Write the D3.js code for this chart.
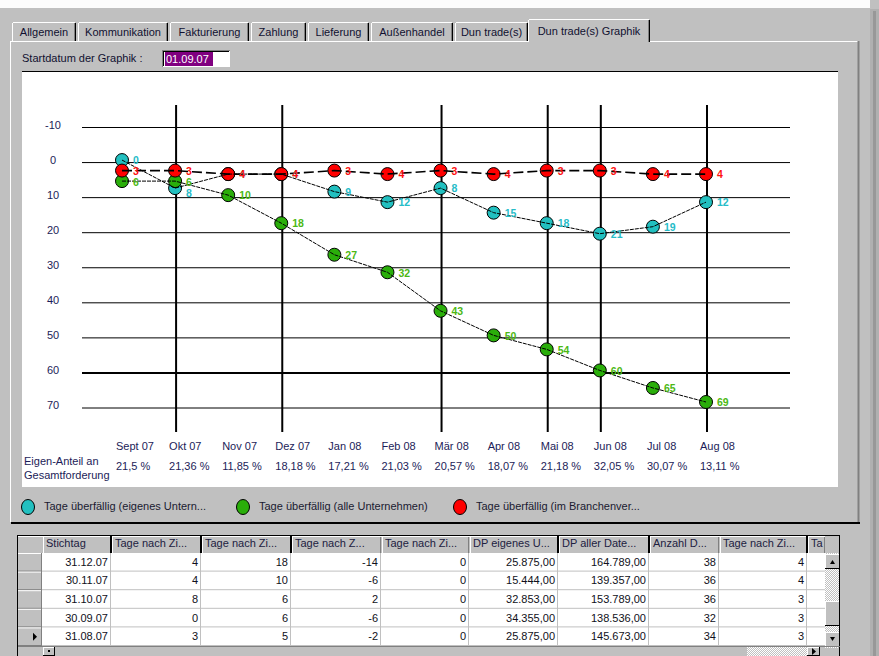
<!DOCTYPE html>
<html>
<head>
<meta charset="utf-8">
<script src="https://cdn.jsdelivr.net/npm/d3@7"></script>
<style>
  body { margin: 0; background: #c0c0c0; }
  svg { display: block; font-family: "Liberation Sans", Arial, sans-serif; }
</style>
</head>
<body>
<div id="chart"></div>
<script>
// chart data
const months = ["Sept 07", "Okt 07", "Nov 07", "Dez 07", "Jan 08", "Feb 08",
                "Mär 08", "Apr 08", "Mai 08", "Jun 08", "Jul 08", "Aug 08"];
const eigenes = [0, 8, 4, 4, 9, 12, 8, 15, 18, 21, 19, 12];
const alle = [6, 6, 10, 18, 27, 32, 43, 50, 54, 60, 65, 69];
const branche = [3, 3, 4, 4, 3, 4, 3, 4, 3, 3, 4, 4];
const eigenAnteil = ["21,5 %", "21,36 %", "11,85 %", "18,18 %", "17,21 %", "21,03 %",
                     "20,57 %", "18,07 %", "21,18 %", "32,05 %", "30,07 %", "13,11 %"];
const markedMonths = ["Okt 07", "Dez 07", "Mär 08", "Mai 08", "Jun 08", "Aug 08"];
const yTicks = [-10, 0, 10, 20, 30, 40, 50, 60, 70];
const seriesNames = ["Tage überfällig (eigenes Untern...", "Tage überfällig (alle Unternehmen)",
                     "Tage überfällig (im Branchenver..."];

// window stuff
const tabs = ["Allgemein", "Kommunikation", "Fakturierung", "Zahlung", "Lieferung",
              "Außenhandel", "Dun trade(s)", "Dun trade(s) Graphik"];
const gridColumns = ["Stichtag", "Tage nach Zi...", "Tage nach Zi...", "Tage nach Z...", "Tage nach Zi...",
                     "DP eigenes U...", "DP aller Date...", "Anzahl D...", "Tage nach Zi...", "Ta"];
const gridRows = [
  ["31.12.07", "4", "18", "-14", "0", "25.875,00", "164.789,00", "38", "4", ""],
  ["30.11.07", "4", "10", "-6", "0", "15.444,00", "139.357,00", "36", "4", ""],
  ["31.10.07", "8", "6", "2", "0", "32.853,00", "153.789,00", "36", "3", ""],
  ["30.09.07", "0", "6", "-6", "0", "34.355,00", "138.536,00", "32", "3", ""],
  ["31.08.07", "3", "5", "-2", "0", "25.875,00", "145.673,00", "34", "3", ""]
];

const W = 879, H = 656;
const colors = { eigenes: "#22c0c0", alle: "#2aae0a", branche: "#ff0000" };
const labelColors = { eigenes: "#26bcc8", alle: "#4cb814", branche: "#ff1010" };
const textDark = "#1c1c58";

const svg = d3.select("#chart").append("svg")
  .attr("width", W).attr("height", H);

const defs = svg.append("defs");
const dither = defs.append("pattern").attr("id", "dither")
  .attr("width", 2).attr("height", 2).attr("patternUnits", "userSpaceOnUse");
dither.append("rect").attr("width", 2).attr("height", 2).attr("fill", "#c0c0c0");
dither.append("rect").attr("width", 1).attr("height", 1).attr("fill", "#fff");
dither.append("rect").attr("x", 1).attr("y", 1).attr("width", 1).attr("height", 1).attr("fill", "#fff");

function hline(g, x1, x2, y, color, w) {
  g.append("line").attr("x1", x1).attr("x2", x2).attr("y1", y).attr("y2", y)
    .attr("stroke", color).attr("stroke-width", w || 1);
}
function vline(g, x, y1, y2, color, w) {
  g.append("line").attr("x1", x).attr("x2", x).attr("y1", y1).attr("y2", y2)
    .attr("stroke", color).attr("stroke-width", w || 1);
}

// background + window edges
svg.append("rect").attr("width", W).attr("height", H).attr("fill", "#c0c0c0");
svg.append("rect").attr("width", 870).attr("height", 8).attr("fill", "#fcfcfc");
svg.append("rect").attr("x", 870).attr("y", 9).attr("width", 9).attr("height", H).attr("fill", "#b0b0b0");
svg.append("rect").attr("x", 873).attr("y", 11).attr("width", 3).attr("height", H).attr("fill", "#989898");

// tab page frame
const frame = svg.append("g");
hline(frame, 10, 858, 41.5, "#fff");
vline(frame, 10.5, 41, 522, "#fff");
vline(frame, 858.5, 41, 522, "#808080", 2);
hline(frame, 11, 860, 523, "#000", 2);

// tabs
const tabRight = [76, 168, 249, 306, 369, 453, 528, 650];
const tabG = svg.append("g").style("font-size", "11px");
let tabLeft = 12;
tabs.forEach((t, i) => {
  const active = i === tabs.length - 1;
  const x0 = active ? tabLeft - 2 : tabLeft;
  const x1 = tabRight[i];
  const y0 = active ? 19 : 22;
  tabG.append("rect").attr("x", x0).attr("y", y0).attr("width", x1 - x0)
    .attr("height", (active ? 43 : 41) - y0).attr("fill", "#c0c0c0");
  hline(tabG, x0 + 1, x1 - 1, y0 + 0.5, "#fff");
  vline(tabG, x0 + 0.5, y0 + 1, active ? 42 : 41, "#fff");
  vline(tabG, x1 - 1.5, y0 + 1, active ? 42 : 41, "#808080");
  vline(tabG, x1 - 0.5, y0 + 1, active ? 42 : 41, "#000");
  tabG.append("text").attr("x", (x0 + x1) / 2).attr("y", active ? 35 : 36)
    .attr("text-anchor", "middle").attr("fill", "#101030").text(t);
  tabLeft = x1 + 2;
});

// start date field
svg.append("text").attr("x", 22).attr("y", 62).style("font-size", "11px")
  .attr("fill", "#101030").text("Startdatum der Graphik :");
svg.append("rect").attr("x", 162).attr("y", 50).attr("width", 68).attr("height", 17).attr("fill", "#fff");
hline(svg, 162, 230, 50.5, "#808080");
vline(svg, 162.5, 50, 67, "#808080");
hline(svg, 163, 229, 51.5, "#000");
vline(svg, 163.5, 51, 66, "#000");
svg.append("rect").attr("x", 165).attr("y", 52).attr("width", 48).attr("height", 14).attr("fill", "#800080");
svg.append("text").attr("x", 166).attr("y", 63).style("font-size", "11px")
  .attr("fill", "#fff").text("01.09.07");

// chart panel
svg.append("rect").attr("x", 22).attr("y", 72).attr("width", 816).attr("height", 415).attr("fill", "#fff");
hline(svg, 22, 838, 71.5, "#000");

const x = d3.scalePoint().domain(months).range([122, 706]);
const y = d3.scaleLinear().domain([-10, 70]).range([127.5, 408]);

const grid = svg.append("g");
grid.selectAll(".hgrid").data(yTicks).join("line")
  .attr("x1", 82).attr("x2", 790)
  .attr("y1", d => y(d)).attr("y2", d => y(d))
  .attr("stroke", "#000")
  .attr("stroke-width", d => d === 60 ? 2 : 1);
grid.selectAll(".vgrid").data(markedMonths).join("line")
  .attr("x1", d => x(d) + 1).attr("x2", d => x(d) + 1)
  .attr("y1", 105).attr("y2", 432)
  .attr("stroke", "#000").attr("stroke-width", 2);

grid.selectAll(".ylab").data(yTicks).join("text")
  .attr("x", 53).attr("y", d => y(d) - 1.5)
  .attr("text-anchor", "middle").attr("dominant-baseline", "middle")
  .style("font-size", "11px").attr("fill", textDark)
  .text(d => d);

// month + share rows
grid.selectAll(".xlab").data(months).join("text")
  .attr("x", d => x(d) - 6).attr("y", 447)
  .attr("dominant-baseline", "middle")
  .style("font-size", "11px").attr("fill", textDark)
  .text(d => d);
grid.selectAll(".pct").data(eigenAnteil).join("text")
  .attr("x", (d, i) => x(months[i]) - 6).attr("y", 467)
  .attr("dominant-baseline", "middle")
  .style("font-size", "11px").attr("fill", textDark)
  .text(d => d);
grid.append("text").attr("x", 24).attr("y", 462).attr("dominant-baseline", "middle")
  .style("font-size", "11px").attr("fill", textDark).text("Eigen-Anteil an");
grid.append("text").attr("x", 24).attr("y", 476).attr("dominant-baseline", "middle")
  .style("font-size", "11px").attr("fill", textDark).text("Gesamtforderung");

// series
const series = [
  { key: "eigenes", values: eigenes, dash: "4,1", width: 1 },
  { key: "alle", values: alle, dash: "4,1", width: 1 },
  { key: "branche", values: branche, dash: "10,4", width: 1.6 }
];
const plot = svg.append("g").attr("transform", "translate(0,-2.5)");

series.forEach(s => {
  plot.append("g").selectAll("ellipse").data(s.values).join("ellipse")
    .attr("cx", (d, i) => x(months[i]))
    .attr("cy", d => y(d))
    .attr("rx", 6.5).attr("ry", 6.5)
    .attr("fill", colors[s.key])
    .attr("stroke", "#000").attr("stroke-width", 1);
});

const line = d3.line().x((d, i) => x(months[i])).y(d => y(d));
series.forEach(s => {
  plot.append("path").datum(s.values)
    .attr("d", line)
    .attr("fill", "none")
    .attr("stroke", "#000")
    .attr("stroke-width", s.width)
    .attr("stroke-dasharray", s.dash);
});

// value labels; where two different values sit too close in one month,
// nudge the lower label down so they don't collide
const labels = [];
series.forEach(s => s.values.forEach((v, i) =>
  labels.push({ key: s.key, v, i, ly: y(v) + 1.5 })));
months.forEach((m, i) => {
  const inMonth = labels.filter(l => l.i === i).sort((a, b) => a.ly - b.ly);
  for (let k = 1; k < inMonth.length; k++) {
    const prev = inMonth[k - 1], cur = inMonth[k];
    if (prev.v !== cur.v && cur.ly - prev.ly < 11) cur.ly = prev.ly + 11;
  }
});
series.forEach(s => {
  plot.append("g").selectAll("text").data(labels.filter(l => l.key === s.key)).join("text")
    .attr("x", d => x(months[d.i]) + 11)
    .attr("y", d => d.ly)
    .attr("dominant-baseline", "middle")
    .style("font-size", "10.5px").style("font-weight", "bold")
    .attr("fill", labelColors[s.key])
    .text(d => d.v);
});

// legend
const legendX = [28, 243, 460];
const legend = svg.append("g");
series.forEach((s, i) => {
  legend.append("ellipse").attr("cx", legendX[i]).attr("cy", 507)
    .attr("rx", 6.5).attr("ry", 7.5)
    .attr("fill", colors[s.key]).attr("stroke", "#000");
  legend.append("text").attr("x", legendX[i] + 16).attr("y", 507)
    .attr("dominant-baseline", "middle")
    .style("font-size", "11px").attr("fill", "#1a1a30")
    .text(seriesNames[i]);
});

// data grid
const colEdges = [42, 111, 201, 291, 381, 469, 558, 649, 719, 807, 825];
const headTop = 535, headBottom = 553, rowH = 18.6;
const tbl = svg.append("g").style("font-size", "11px");

tbl.append("rect").attr("x", 17).attr("y", headTop).attr("width", 823).attr("height", H - headTop).attr("fill", "#c0c0c0");
// white cells
tbl.append("rect").attr("x", 42).attr("y", headBottom).attr("width", 783)
  .attr("height", rowH * gridRows.length).attr("fill", "#fff");

// header
gridColumns.forEach((c, i) => {
  const x0 = colEdges[i], x1 = colEdges[i + 1];
  vline(tbl, x0 + 1.5, headTop + 1, headBottom, "#fff");
  vline(tbl, x1 - 0.5, headTop + 1, headBottom, "#808080");
  tbl.append("text").attr("x", x0 + 4).attr("y", headTop + 9)
    .attr("dominant-baseline", "middle").attr("fill", "#202040").text(c);
});
hline(tbl, 17, 840, headTop + 0.5, "#000");
hline(tbl, 18, 825, headTop + 1.5, "#fff");
[111, 201, 291, 558, 649, 807].forEach(cx => vline(tbl, cx, headTop, headBottom, "#000", 2));

// rows
gridRows.forEach((row, r) => {
  const top = headBottom + r * rowH;
  hline(tbl, 18, 42, top + 0.5, "#fff");
  hline(tbl, 17, 42, top + rowH - 0.5, "#808080");
  hline(tbl, 42, 825, top + rowH - 0.5, "#c0c0c0");
  row.forEach((v, c) => {
    if (!v) return;
    tbl.append("text").attr("x", colEdges[c + 1] - 3).attr("y", top + rowH / 2 + 0.5)
      .attr("text-anchor", "end").attr("dominant-baseline", "middle")
      .attr("fill", "#101020").text(v);
  });
});
colEdges.slice(1, -1).forEach(cx => vline(tbl, cx - 0.5, headBottom, headBottom + rowH * gridRows.length, "#c0c0c0"));
vline(tbl, 41.5, headBottom, headBottom + rowH * gridRows.length, "#808080");
vline(tbl, 17.5, headTop, H, "#000");
// current row marker
const markY = headBottom + 4.5 * rowH;
tbl.append("path").attr("d", `M33,${markY - 4} L37,${markY} L33,${markY + 4} Z`).attr("fill", "#000");

// vertical scrollbar
const sb = svg.append("g");
sb.append("rect").attr("x", 825).attr("y", headBottom).attr("width", 15).attr("height", 95).attr("fill", "url(#dither)");
function button(g, bx, by, bw, bh) {
  g.append("rect").attr("x", bx).attr("y", by).attr("width", bw).attr("height", bh).attr("fill", "#c0c0c0");
  hline(g, bx, bx + bw, by + 0.5, "#fff");
  vline(g, bx + 0.5, by, by + bh, "#fff");
  hline(g, bx, bx + bw, by + bh - 0.5, "#000");
  vline(g, bx + bw - 0.5, by, by + bh, "#000");
}
button(sb, 825, headBottom + 1, 15, 15);
sb.append("path").attr("d", `M830,${headBottom + 11} L835,${headBottom + 11} L832.5,${headBottom + 7} Z`).attr("fill", "#000");
button(sb, 825, 601, 15, 25);
button(sb, 825, 632, 15, 15);
sb.append("path").attr("d", "M830,637 L835,637 L832.5,641 Z").attr("fill", "#000");
vline(sb, 839.5, headTop, H, "#000");

// horizontal scrollbar strip
const hs = svg.append("g");
hline(hs, 18, 840, 646.5, "#808080");
button(hs, 43, 647, 12, 9);
hs.append("rect").attr("x", 48).attr("y", 650).attr("width", 2).attr("height", 2).attr("fill", "#000");
hs.append("rect").attr("x", 747).attr("y", 647).attr("width", 60).attr("height", 9).attr("fill", "url(#dither)");
button(hs, 807, 647, 13, 9);
hs.append("path").attr("d", "M812,648 L816,651.5 L812,655 Z").attr("fill", "#000");
</script>
</body>
</html>
